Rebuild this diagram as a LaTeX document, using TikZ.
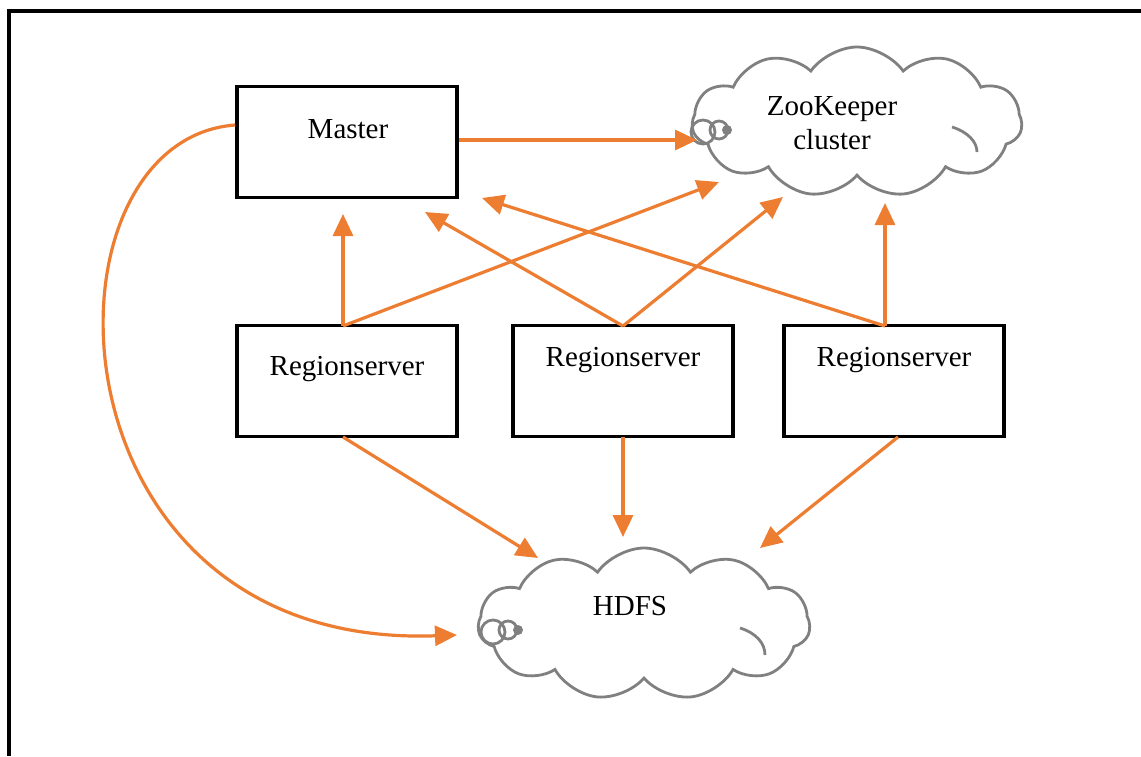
\documentclass[tikz,border=0pt]{standalone}
\usepackage{fontspec}
\setmainfont{Liberation Serif}
\usetikzlibrary{shapes.symbols,arrows.meta}
\definecolor{flow}{RGB}{237,125,49}
\definecolor{cloudgray}{RGB}{128,128,128}
\begin{document}
\begin{tikzpicture}[x=1pt,y=-1pt,
  box/.style={draw=black,line width=3.6pt,minimum width=220pt,minimum height=111pt,inner sep=0pt},
  lbl/.style={font=\fontsize{29}{34}\selectfont,inner sep=0pt},
  puff/.style={cloud,draw=cloudgray,line width=2.8pt,cloud puffs=11,cloud puff arc=110,aspect=2.2,inner sep=0pt},
  seam/.style={draw=cloudgray,line width=2.8pt},
  link/.style={draw=flow,line width=3.2pt,-{Triangle[length=22pt,width=20pt]}}]
\useasboundingbox (0,0) rectangle (1141,756);
% frame
\draw[line width=3.6pt] (9,756) -- (9,11) -- (1141,11);

% boxes
\node[box] (master) at (347,142) {};
\node[lbl] (mastertxt) at (348,129) {Master};
\node[box] (rs1) at (347,381) {};
\node[lbl] (rs1txt) at (347,369) {Regionserver};
\node[box] (rs2) at (623,381) {};
\node[lbl] (rs2txt) at (623,360) {Regionserver};
\node[box] (rs3) at (894,381) {};
\node[lbl] (rs3txt) at (894,360) {Regionserver};

% clouds
\node[puff,minimum width=330pt,minimum height=150pt] (zk) at (857,122) {};
\node[lbl,align=center] (zktxt) at (832,123) {ZooKeeper\\cluster};
\node[puff,minimum width=332pt,minimum height=152pt] (hdfs) at (644,624) {};
\node[lbl] (hdfstxt) at (630,606) {HDFS};

% callout rings and inner seams
\draw[seam] (703,132) circle (12) (719,130) circle (9);
\fill[cloudgray] (727,130) circle (5);
\draw[seam] (952,127) .. controls (968,132) and (977,142) .. (977,152);
\draw[seam] (493,632) circle (12) (508,630) circle (9);
\fill[cloudgray] (518,630) circle (5);
\draw[seam] (740,628) .. controls (756,633) and (765,643) .. (765,655);

% arrow ends
\coordinate (m-in1) at (343,214);
\coordinate (m-in2) at (425,212);
\coordinate (m-in3) at (482,198);
\coordinate (z-in0) at (697,140);
\coordinate (z-in1) at (719,182);
\coordinate (z-in2) at (783,197);
\coordinate (z-in3) at (885,203);
\coordinate (h-in0) at (457,635);
\coordinate (h-in1) at (538,558);
\coordinate (h-in2) at (623,537);
\coordinate (h-in3) at (760,548);
\coordinate (rs1top) at (343,326);
\coordinate (rs2top) at (623,326);
\coordinate (rs3top) at (885,326);
\coordinate (rs1bot) at (343,437);
\coordinate (rs2bot) at (623,437);
\coordinate (rs3bot) at (898,437);

% connectors
\draw[link] (master.east |- 0,140) -- (z-in0);
\draw[link] (master.west |- 0,125) .. controls (30,140) and (40,650) .. (h-in0);
\draw[link] (rs1top) -- (m-in1);
\draw[link] (rs1top) -- (z-in1);
\draw[link] (rs2top) -- (m-in2);
\draw[link] (rs2top) -- (z-in2);
\draw[link] (rs3top) -- (m-in3);
\draw[link] (rs3top) -- (z-in3);
\draw[link] (rs1bot) -- (h-in1);
\draw[link] (rs2bot) -- (h-in2);
\draw[link] (rs3bot) -- (h-in3);
\end{tikzpicture}
\end{document}
